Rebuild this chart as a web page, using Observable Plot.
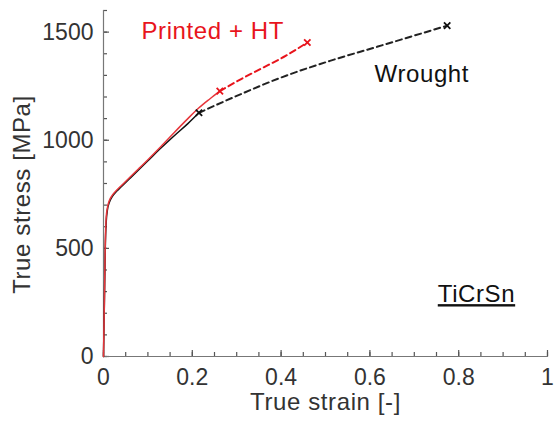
<!DOCTYPE html>
<html>
<head>
<meta charset="utf-8">
<script src="https://cdn.jsdelivr.net/npm/d3@7"></script>
<script src="https://cdn.jsdelivr.net/npm/@observablehq/plot@0.6"></script>
<style>
  html, body { margin: 0; padding: 0; background: #fff; }
  #chart svg { display: block; }
</style>
</head>
<body>
<div id="chart"></div>
<script>
// Wrought: measured (solid) part
const wroughtSolidStrain = [0, 0.002, 0.004, 0.006, 0.009, 0.013, 0.02, 0.03, 0.04, 0.06, 0.08, 0.10, 0.13, 0.16, 0.19, 0.215];
const wroughtSolidStress = [0, 250, 500, 620, 680, 712, 740, 765, 785, 825, 865, 905, 965, 1022, 1077, 1127];
// Wrought: extrapolated (dashed) part
const wroughtDashStrain = [0.215, 0.30, 0.40, 0.51, 0.616, 0.721, 0.774];
const wroughtDashStress = [1127, 1205, 1290, 1367, 1432, 1497, 1530];
// Printed + HT: measured (solid) part
const printedSolidStrain = [0, 0.002, 0.004, 0.006, 0.009, 0.013, 0.02, 0.03, 0.04, 0.06, 0.08, 0.10, 0.13, 0.16, 0.19, 0.215, 0.24, 0.262];
const printedSolidStress = [0, 260, 520, 640, 690, 720, 746, 770, 790, 830, 870, 910, 972, 1037, 1100, 1150, 1192, 1227];
// Printed + HT: extrapolated (dashed) part
const printedDashStrain = [0.262, 0.31, 0.354, 0.41, 0.459];
const printedDashStress = [1227, 1283, 1330, 1390, 1452];

const xTicks = [0, 0.2, 0.4, 0.6, 0.8, 1];
const xTickLabels = ["0", "0.2", "0.4", "0.6", "0.8", "1"];
const yTicks = [0, 500, 1000, 1500];
const yTickLabels = ["0", "500", "1000", "1500"];
const xMinorTicks = d3.range(0, 1.0001, 0.05);
const yMinorTicks = d3.range(0, 1600.1, 100);

const annotationText = ["Printed + HT", "Wrought", "TiCrSn"];
const annotationX = [0.246, 0.717, 0.84];
const annotationY = [1506, 1305, 287];
const annotationColor = ["#e8141c", "#111111", "#111111"];

const xLabel = "True strain [-]";
const yLabel = "True stress [MPa]";

const toRows = (xs, ys) => xs.map((x, i) => ({x, y: ys[i]}));
const wSolid = toRows(wroughtSolidStrain, wroughtSolidStress);
const wDash = toRows(wroughtDashStrain, wroughtDashStress);
const pSolid = toRows(printedSolidStrain, printedSolidStress);
const pDash = toRows(printedDashStrain, printedDashStress);
const RED = "#e8141c";
const ends = [
  {...wSolid[wSolid.length - 1], c: "#111"},
  {...wDash[wDash.length - 1], c: "#111"},
  {...pSolid[pSolid.length - 1], c: RED},
  {...pDash[pDash.length - 1], c: RED}
];
const annotations = annotationText.map((t, i) => ({t, x: annotationX[i], y: annotationY[i], c: annotationColor[i]}));

const FONT = "Liberation Sans, Arial, sans-serif";
const W = 558, H = 427, ML = 103, MR = 11, MT = 10, MB = 71;
const frameW = W - ML - MR, frameH = H - MT - MB;
const MINOR = 4, MAJOR = 6;

const chart = Plot.plot({
  width: W,
  height: H,
  marginLeft: ML,
  marginRight: MR,
  marginTop: MT,
  marginBottom: MB,
  style: {fontFamily: FONT, background: "#fff"},
  x: {domain: [0, 1]},
  y: {domain: [0, 1600]},
  marks: [
    // inward ticks, drawn as short rules anchored on the axes
    Plot.ruleX(xMinorTicks, {insetTop: frameH - MINOR, stroke: "#555", strokeWidth: 1.2}),
    Plot.ruleY(yMinorTicks, {insetRight: frameW - MINOR, stroke: "#555", strokeWidth: 1.2}),
    Plot.ruleX(xTicks, {insetTop: frameH - MAJOR, stroke: "#555", strokeWidth: 1.2}),
    Plot.ruleY(yTicks, {insetRight: frameW - MAJOR, stroke: "#555", strokeWidth: 1.2}),
    // tick labels
    Plot.axisX(xTicks, {tickSize: 0, tickPadding: 12, tickFormat: (d) => xTickLabels[xTicks.indexOf(d)], fontSize: 23, fill: "#333", label: null}),
    Plot.axisY(yTicks, {tickSize: 0, tickPadding: 10, tickFormat: (d) => yTickLabels[yTicks.indexOf(d)], fontSize: 23, fill: "#333", label: null}),
    Plot.frame({anchor: "left", stroke: "#777", strokeWidth: 1.2}),
    Plot.frame({anchor: "bottom", stroke: "#777", strokeWidth: 1.2}),
    // curves
    Plot.line(wDash, {x: "x", y: "y", stroke: "#222", strokeWidth: 2, strokeDasharray: "6,4", curve: "monotone-x"}),
    Plot.line(pDash, {x: "x", y: "y", stroke: RED, strokeWidth: 2, strokeDasharray: "6,4", curve: "monotone-x"}),
    Plot.line(wSolid, {x: "x", y: "y", stroke: "#111", strokeWidth: 1.5, curve: "monotone-x"}),
    Plot.line(pSolid, {x: "x", y: "y", stroke: "#e6353a", strokeWidth: 1.5, curve: "monotone-x"}),
    Plot.dot(ends, {x: "x", y: "y", symbol: "times", r: 3, stroke: "c", strokeWidth: 1.8}),
    // annotations
    Plot.text(annotations, {x: "x", y: "y", text: "t", fill: "c", fontSize: 24, className: "annot"}),
    // axis titles
    Plot.text([xLabel], {frameAnchor: "bottom", dy: 53, fontSize: 24, fill: "#333", className: "atitle"}),
    Plot.text([yLabel], {frameAnchor: "left", textAnchor: "middle", dx: -81, dy: 11, rotate: -90, fontSize: 24, fill: "#333", className: "atitle"})
  ]
});

document.getElementById("chart").appendChild(chart);
const svg = d3.select(chart);
svg.selectAll(".annot text, .atitle text").style("letter-spacing", "0.6px");
// underline the sample name
svg.selectAll(".annot text").filter(function () { return this.textContent === "TiCrSn"; })
  .style("text-decoration", "underline");
</script>
</body>
</html>
